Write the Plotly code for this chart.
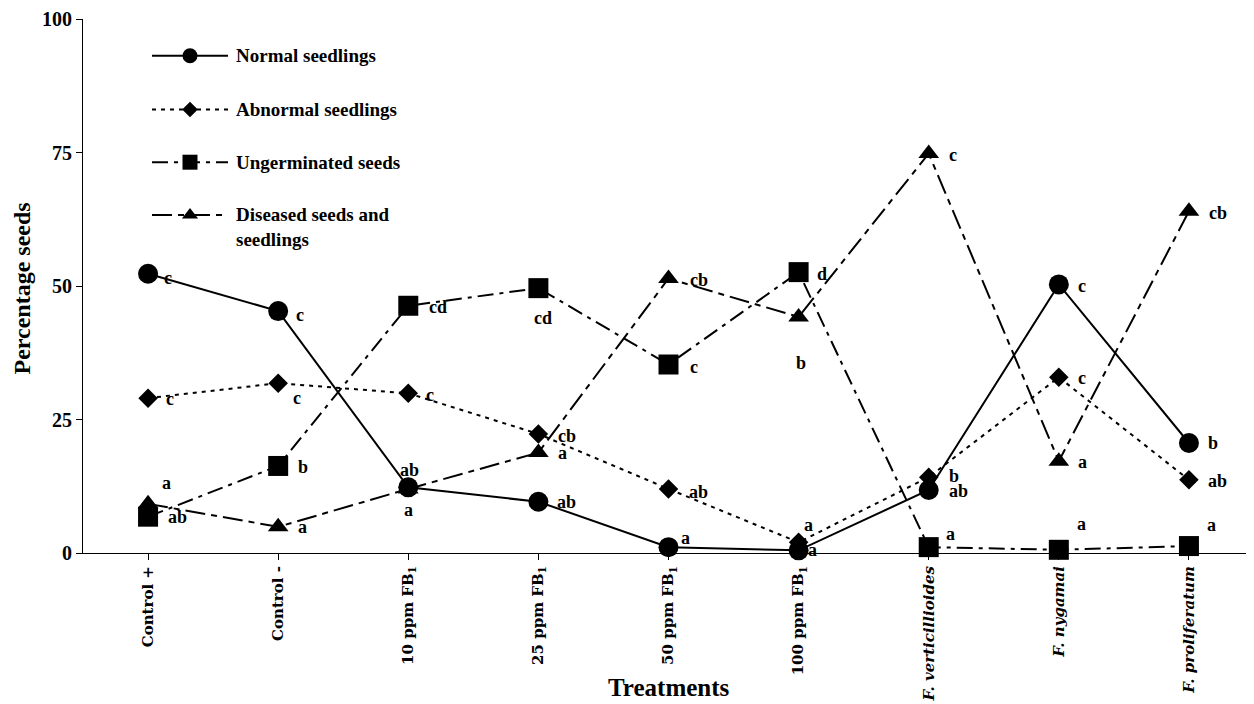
import plotly.graph_objects as go

# ---------------- data ----------------
categories = ["Control +", "Control -", "10 ppm FB<sub>1</sub>", "25 ppm FB<sub>1</sub>",
              "50 ppm FB<sub>1</sub>", "100 ppm FB<sub>1</sub>", "<i>F. verticillioides</i>",
              "<i>F. nygamai</i>", "<i>F. proliferatum</i>"]

normal = [52.3, 45.3, 12.3, 9.6, 1.1, 0.5, 11.8, 50.3, 20.6]
abnormal = [29.0, 31.8, 29.9, 22.3, 12.0, 2.0, 14.2, 32.9, 13.7]
ungerminated = [6.8, 16.3, 46.3, 49.6, 35.3, 52.6, 1.1, 0.6, 1.3]
diseased = [9.2, 4.9, 12.0, 18.8, 51.4, 44.2, 74.8, 17.2, 64.0]

normal_letters = ["c", "c", "ab", "ab", "a", "a", "ab", "c", "b"]
abnormal_letters = ["c", "c", "c", "cb", "ab", "a", "b", "c", "ab"]
ungerminated_letters = ["ab", "b", "cd", "cd", "c", "d", "a", "a", "a"]
diseased_letters = ["a", "a", "a", "a", "cb", "b", "c", "a", "cb"]

series_names = ["Normal seedlings", "Abnormal seedlings", "Ungerminated seeds",
                "Diseased seeds and<br>seedlings"]

# ---------------- styles / label offsets (pixels) ----------------
normal_off = [(20, -4), (22, -4), (1, 17), (28, 0), (17, 9), (14, 0), (30, -1), (23, -2), (24, 0)]
abnormal_off = [(22, -1), (19, -15), (22, -2), (29, -2), (30, -3), (10, 17), (25, 1), (23, -1), (29, -1)]
ungerm_off = [(29, 0), (25, -1), (30, -1), (5, -30), (25, -2), (23, -2), (22, 13), (23, 26), (23, 21)]
diseased_off = [(18, 21), (24, 0), (0, -21), (24, 0), (30, -1), (2, -46), (24, -1), (24, -1), (29, -2)]

styles = [
    dict(dash="solid", symbol="circle", size=20, lsize=15),
    dict(dash="4px,5px", symbol="diamond", size=15, lsize=12),
    dict(dash="16px,6px,4px,6px", symbol="square", size=20, lsize=15),
    dict(dash="20px,6px,6px,6px", symbol="triangle-up", size=18, lsize=14),
]

all_values = [normal, abnormal, ungerminated, diseased]
all_letters = [normal_letters, abnormal_letters, ungerminated_letters, diseased_letters]
all_offsets = [normal_off, abnormal_off, ungerm_off, diseased_off]

SERIF = "Liberation Serif"
fig = go.Figure()

for vals, st, name in zip(all_values, styles, series_names):
    fig.add_trace(go.Scatter(
        x=list(range(len(categories))), y=vals, mode="lines+markers", name=name,
        line=dict(color="black", width=2, dash=st["dash"]),
        marker=dict(symbol=st["symbol"], size=st["size"], color="black", line=dict(width=0)),
        cliponaxis=False, showlegend=False))

annotations = []
for vals, letters, offs in zip(all_values, all_letters, all_offsets):
    for i, (v, t, (dx, dy)) in enumerate(zip(vals, letters, offs)):
        annotations.append(dict(x=i, y=v, xref="x", yref="y", text=t, showarrow=False,
                                xshift=dx, yshift=dy, xanchor="center", yanchor="middle",
                                font=dict(family=SERIF, size=18, color="black", weight="bold")))

# ---------------- layout geometry (page has an 8px body margin) ----------------
OFF = 8
W, H = 1254 - OFF, 704 - OFF
L, R, T, B = 75, 0, 8, 151
pw, ph = W - L - R, H - T - B
SX0, SY1 = OFF + L, OFF + T + ph      # screen px of plot-area left & bottom

def px(x):
    return (x - SX0) / pw

def py(y):
    return (SY1 - y) / ph

# custom legend drawn on hidden overlay axes (paper units)
leg_rows = [53, 107, 160, 213]
for st, row in zip(styles, leg_rows):
    fig.add_trace(go.Scatter(
        x=[px(152), px(228)], y=[py(row)] * 2, xaxis="x2", yaxis="y2",
        mode="lines", line=dict(color="black", width=2, dash=st["dash"]),
        showlegend=False, hoverinfo="skip", cliponaxis=False))
    fig.add_trace(go.Scatter(
        x=[px(190)], y=[py(row)], xaxis="x2", yaxis="y2", mode="markers",
        marker=dict(symbol=st["symbol"], size=st["lsize"], color="#000000",
                    line=dict(width=0)),
        showlegend=False, hoverinfo="skip", cliponaxis=False))
leg_text = ["Normal seedlings", "Abnormal seedlings", "Ungerminated seeds", "Diseased seeds and"]
for txt, row in zip(leg_text, leg_rows):
    annotations.append(dict(x=px(234), y=py(row), xref="paper", yref="paper", text=txt,
                            showarrow=False, xanchor="left", yanchor="middle",
                            font=dict(family=SERIF, size=19, color="black", weight="bold")))
annotations.append(dict(x=px(234), y=py(238), xref="paper", yref="paper", text="seedlings",
                        showarrow=False, xanchor="left", yanchor="middle",
                        font=dict(family=SERIF, size=19, color="black", weight="bold")))

# axis titles
annotations.append(dict(x=0.5, y=py(688), xref="paper", yref="paper", text="Treatments",
                        showarrow=False, xanchor="center", yanchor="middle",
                        font=dict(family=SERIF, size=25, color="black", weight="bold")))
annotations.append(dict(x=px(22), y=py(287), xref="paper", yref="paper", text="Percentage seeds",
                        showarrow=False, xanchor="center", yanchor="middle", textangle=-90,
                        font=dict(family=SERIF, size=24, color="black", weight="bold")))

fig.update_layout(
    width=W, height=H,
    margin=dict(l=L, r=R, t=T, b=B),
    plot_bgcolor="white", paper_bgcolor="white",
    showlegend=False,
    annotations=annotations,
    xaxis=dict(
        tickmode="array", tickvals=list(range(len(categories))), ticktext=categories,
        range=[-0.5, len(categories) - 0.5], showline=True, linecolor="black", linewidth=1.2,
        ticks="outside", ticklen=6, tickcolor="black", showgrid=False, zeroline=False,
        tickson="boundaries",
        tickangle=-90, tickfont=dict(family="DejaVu Serif", size=15, color="black", weight="bold"),
    ),
    yaxis=dict(
        range=[0, 100], tickvals=[0, 25, 50, 75, 100], showline=True, linecolor="black",
        linewidth=1.2, ticks="outside", ticklen=6, tickcolor="black", showgrid=False,
        zeroline=False, ticklabeloverflow="allow",
        tickfont=dict(family=SERIF, size=20, color="black", weight="bold"),
    ),
    xaxis2=dict(overlaying="x", range=[0, 1], visible=False, domain=[0, 1]),
    yaxis2=dict(overlaying="y", range=[0, 1], visible=False),
)

fig.write_html("out.html")
